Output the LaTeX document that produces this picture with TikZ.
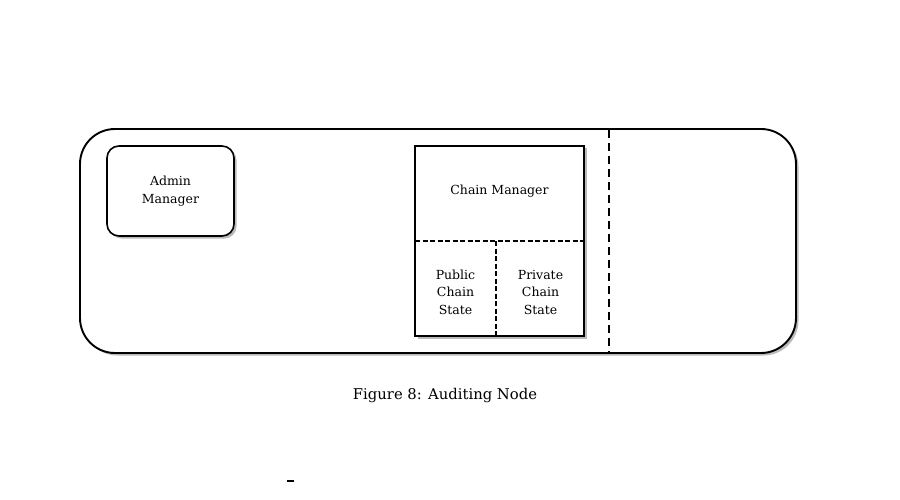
\documentclass[tikz,border=0pt]{standalone}
\usepackage{fontspec}
\setmainfont{DejaVu Serif}
\usetikzlibrary{shadows}
\begin{document}
\begin{tikzpicture}[x=1pt,y=-1pt,
  boxshadow/.style={drop shadow={shadow xshift=2.5pt,shadow yshift=-2.5pt,fill=black!45,opacity=0.6}},
  lbl/.style={font=\fontsize{12.5}{17.5}\selectfont,align=center,inner sep=0pt},
  sepline/.style={line width=1.4pt,dash pattern=on 5pt off 2.5pt},
  bigsep/.style={line width=1.8pt,dash pattern=on 8pt off 5pt}]
\useasboundingbox[fill=white] (0,0) rectangle (900,500);
% outer node
\node[draw,line width=1.9pt,rounded corners=35pt,minimum width=716pt,minimum height=224pt,inner sep=0pt,fill=white,boxshadow] (outer) at (438,241) {};
% admin manager
\node[draw,line width=1.6pt,rounded corners=12pt,minimum width=127pt,minimum height=90pt,fill=white,boxshadow,lbl] (admin) at (170.5,191) {Admin\\Manager};
% chain manager block
\node[draw,line width=1.8pt,minimum width=169pt,minimum height=190pt,inner sep=0pt,fill=white,boxshadow] (chainbox) at (499.5,241) {};
\coordinate (hl) at (415,241);
\coordinate (hr) at (584,241);
\coordinate (vt) at (496,241);
\coordinate (vb) at (496,336);
\draw[sepline] (hl) -- (hr);
\draw[sepline] (vt) -- (vb);
\node[lbl] (cm) at (499.5,191) {Chain Manager};
\node[lbl] (pub) at (455.5,292) {Public\\Chain\\State};
\node[lbl] (priv) at (540.5,292) {Private\\Chain\\State};
% vertical dashed separator
\coordinate (st) at (609,130);
\coordinate (sb) at (609,352);
\draw[bigsep] (st) -- (sb);
% caption
\node[font=\fontsize{14.8}{18}\selectfont,inner sep=0pt] (cap) at (445,396) {Figure 8: Auditing Node};
% stray mark
\coordinate (m1) at (287,481);
\coordinate (m2) at (294,481);
\draw[line width=1.4pt] (m1) -- (m2);
\end{tikzpicture}
\end{document}
